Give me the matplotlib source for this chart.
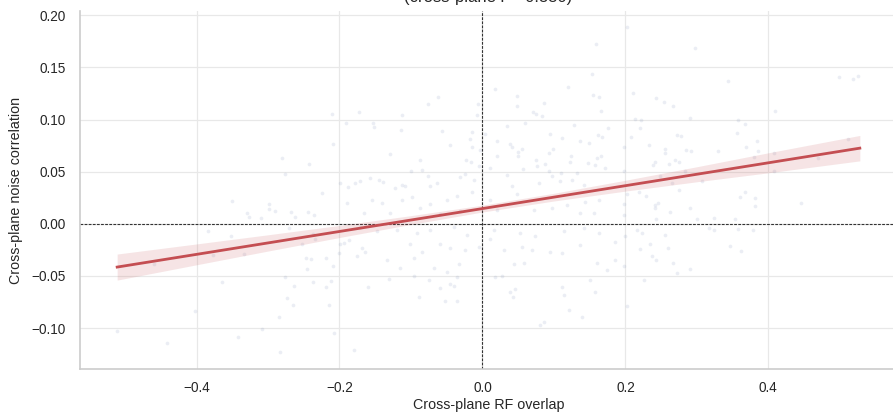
import numpy as np
import matplotlib
matplotlib.use("Agg")
import matplotlib.pyplot as plt
from matplotlib.ticker import FuncFormatter

plt.rcParams['font.family'] = ['Liberation Sans', 'DejaVu Sans']

# cell pairs: cross-plane RF overlap vs cross-plane noise correlation
rf_overlap = [
    -0.210, -0.191, -0.209, -0.280, -0.242, -0.276, -0.199, -0.188,
    0.159, 0.153, 0.018, 0.120, 0.049, -0.062, 0.155, 0.163, -0.076, -0.006,
    0.048, 0.086, -0.173, -0.113, -0.007, 0.071, 0.075, 0.084, 0.166, -0.153,
    -0.151, 0.035, 0.059, 0.128, -0.114, -0.056, -0.015, 0.004, 0.094, 0.161,
    0.176, 0.167, -0.018, 0.021, 0.039, 0.111, 0.136, 0.149, -0.046, -0.014,
    -0.004, 0.042, 0.056, 0.050, 0.099, 0.093, -0.129, 0.020, 0.050, 0.124,
    0.160, 0.166, -0.087, -0.023, -0.016, 0.075, 0.122, 0.148, -0.005, 0.011,
    0.057, 0.077, 0.087, 0.157, 0.172, -0.100, -0.085, 0.093, 0.132, -0.076,
    -0.032, -0.024, 0.035, 0.098, 0.110, -0.157, -0.145, -0.139, -0.178, -0.171,
    -0.112, -0.109, -0.073, -0.064, -0.012, 0.042, 0.079, 0.108, 0.126, 0.142,
    -0.122,
    0.202, 0.297, 0.343, 0.499, 0.518, 0.525, 0.211, 0.243, 0.254, 0.267,
    0.410, 0.214, 0.222, 0.291, 0.358, 0.221, 0.367, 0.208, 0.272, 0.278,
    0.356, 0.233, 0.384, 0.198, 0.369, 0.255, 0.285, 0.292, 0.329, 0.256,
    0.386, 0.270, 0.275, 0.241, 0.239, 0.261, 0.380, 0.408, 0.512, 0.283,
    0.248, 0.408, 0.307, 0.198, 0.265, 0.469,
    -0.350, -0.298, -0.298, -0.290, -0.330, -0.326, -0.310, -0.268, -0.262, -0.244,
    -0.236, -0.225, -0.190, -0.384, -0.352, -0.270, -0.237, -0.252, -0.234, -0.199,
    -0.377, -0.334, -0.459, -0.247, -0.240, -0.219, -0.246, -0.209, -0.201, -0.276,
    -0.364, -0.263, -0.237, -0.212, -0.219, -0.273, -0.265, -0.215, -0.402, -0.284,
    -0.511, -0.309, -0.342, -0.207, -0.441, -0.283, -0.193, -0.186,
    -0.154, -0.140, -0.112, -0.098, -0.073, -0.049, -0.035, -0.014, 0.011, 0.021,
    0.049, 0.072, 0.097, 0.118, 0.137, 0.144, 0.163, 0.156, -0.166, -0.129,
    -0.087, -0.059, -0.031, -0.171, -0.147, -0.119, -0.091, -0.073, -0.040, -0.021,
    0.011, 0.016, 0.053, 0.074, 0.114, 0.142, 0.163, 0.186, -0.168, -0.164,
    -0.101, -0.084, -0.059, -0.045, -0.024, -0.005, 0.030, 0.056, 0.070, 0.095,
    0.111, 0.137, -0.175, -0.133, -0.115, -0.096, -0.068, -0.049, -0.033, 0.044,
    0.058, 0.160, 0.174, 0.186, -0.131, -0.096, -0.075, -0.035, 0.017, 0.028,
    0.151, -0.160, -0.059, -0.046, -0.040, 0.111, 0.039, 0.046, 0.114, 0.158,
    -0.089, -0.052, -0.035, 0.043, 0.121, 0.139, 0.086, 0.081, -0.179,
    0.445, 0.198, 0.202, 0.219, 0.229, 0.242, 0.245, 0.242, 0.275, 0.291,
    0.262, 0.243, 0.198, 0.300, 0.324, 0.354, 0.361, 0.368, 0.382, 0.382,
    0.216, 0.223, 0.200, 0.256, 0.317, 0.324, 0.358, 0.379, 0.234, 0.220,
    0.260, 0.346, 0.362, 0.237, 0.243, 0.266, 0.198, 0.291, 0.272, 0.226,
    0.202,
]
noise_corr = [
    0.105, 0.097, 0.077, 0.063, 0.057, 0.048, 0.039, 0.035,
    0.173, 0.144, 0.129, 0.131, 0.123, 0.122, 0.124, 0.122, 0.115, 0.115,
    0.113, 0.116, 0.107, 0.104, 0.104, 0.107, 0.105, 0.103, 0.108, 0.097,
    0.093, 0.094, 0.097, 0.095, 0.090, 0.089, 0.088, 0.086, 0.086, 0.085,
    0.092, 0.083, 0.081, 0.079, 0.077, 0.082, 0.079, 0.078, 0.076, 0.074,
    0.071, 0.074, 0.072, 0.069, 0.072, 0.068, 0.067, 0.065, 0.065, 0.065,
    0.063, 0.065, 0.061, 0.061, 0.059, 0.061, 0.059, 0.058, 0.055, 0.054,
    0.053, 0.055, 0.057, 0.056, 0.054, 0.051, 0.052, 0.051, 0.049, 0.046,
    0.045, 0.048, 0.047, 0.046, 0.049, 0.044, 0.042, 0.040, 0.039, 0.041,
    0.037, 0.036, 0.036, 0.039, 0.042, 0.036, 0.039, 0.041, 0.042, 0.037,
    0.034,
    0.189, 0.169, 0.137, 0.141, 0.139, 0.142, 0.126, 0.121, 0.117, 0.113,
    0.108, 0.101, 0.100, 0.102, 0.100, 0.092, 0.096, 0.083, 0.085, 0.084,
    0.087, 0.076, 0.079, 0.074, 0.074, 0.072, 0.071, 0.070, 0.070, 0.068,
    0.070, 0.061, 0.059, 0.059, 0.056, 0.057, 0.064, 0.068, 0.081, 0.051,
    0.046, 0.051, 0.041, 0.051, 0.039, 0.063,
    0.022, 0.019, 0.014, 0.012, 0.010, 0.007, 0.006, 0.011, 0.007, 0.011,
    0.008, 0.030, 0.020, -0.007, -0.012, -0.004, -0.010, -0.019, -0.015, -0.019,
    -0.030, -0.029, -0.039, -0.033, -0.034, -0.033, -0.043, -0.040, -0.028, -0.051,
    -0.056, -0.060, -0.056, -0.055, -0.061, -0.071, -0.078, -0.078, -0.084, -0.089,
    -0.103, -0.101, -0.109, -0.105, -0.114, -0.123, -0.018, -0.016,
    0.023, 0.020, 0.023, 0.026, 0.019, 0.023, 0.027, 0.031, 0.023, 0.013,
    0.029, 0.013, 0.015, 0.018, 0.010, 0.021, 0.023, 0.010, 0.010, 0.010,
    0.015, 0.009, 0.012, -0.003, -0.007, -0.006, -0.009, -0.006, -0.003, -0.011,
    -0.015, -0.006, -0.009, -0.012, -0.007, -0.004, -0.009, -0.017, -0.023, -0.027,
    -0.019, -0.027, -0.019, -0.023, -0.025, -0.022, -0.025, -0.022, -0.025, -0.027,
    -0.028, -0.020, -0.031, -0.035, -0.042, -0.033, -0.042, -0.046, -0.039, -0.039,
    -0.038, -0.038, -0.044, -0.035, -0.053, -0.050, -0.054, -0.051, -0.051, -0.050,
    -0.054, -0.061, -0.062, -0.058, -0.060, -0.061, -0.065, -0.063, -0.068, -0.065,
    -0.070, -0.074, -0.074, -0.070, -0.083, -0.089, -0.094, -0.097, -0.121,
    0.020, 0.019, 0.029, 0.031, 0.027, 0.018, 0.020, 0.015, 0.032, 0.015,
    0.011, 0.005, 0.008, 0.005, 0.006, 0.005, 0.026, 0.031, 0.025, 0.017,
    -0.006, -0.009, -0.012, -0.011, -0.004, -0.006, -0.005, -0.006, -0.019, -0.024,
    -0.023, -0.021, -0.026, -0.031, -0.035, -0.038, -0.040, -0.043, -0.047, -0.054,
    -0.079,
]

# least-squares fit and its 95% band
fit_x = [-0.511, 0.528]
fit_y = [-0.0415, 0.0726]
band_x = [-0.511, -0.4, -0.3, -0.2, -0.1, 0.0, 0.1, 0.2, 0.3, 0.4, 0.528]
band_half = [0.0125, 0.0100, 0.0078, 0.0058, 0.0042, 0.0033, 0.0037, 0.0052, 0.0072, 0.0096, 0.0122]
r_value = 0.380


def fmt(decimals):
    return FuncFormatter(lambda v, _: f'{v:.{decimals}f}'.replace('-', '\u2212'))


fig = plt.figure(figsize=(8.93, 4.13), dpi=100)
ax = fig.add_axes([80 / 893, 44 / 413, 817 / 893, 358 / 413])

ax.scatter(rf_overlap, noise_corr, s=7, color='#7b8bb8', alpha=0.15, linewidths=0, zorder=2)

bx = np.array(band_x)
by = np.interp(bx, fit_x, fit_y)
half = np.array(band_half)
ax.fill_between(bx, by - half, by + half, color='#c44e52', alpha=0.15, linewidth=0, zorder=3)
ax.plot(fit_x, fit_y, color='#c44e52', lw=2, zorder=4)

ax.axhline(0, color='#333333', lw=0.8, ls=(0, (2.5, 1.2)), zorder=1)
ax.axvline(0, color='#333333', lw=0.8, ls=(0, (2.5, 1.2)), zorder=1)

ax.set_xlim(-0.563, 0.580)
ax.set_ylim(-0.1393, 0.2042)
ax.set_xticks([-0.4, -0.2, 0.0, 0.2, 0.4])
ax.set_yticks([-0.10, -0.05, 0.00, 0.05, 0.10, 0.15, 0.20])
ax.xaxis.set_major_formatter(fmt(1))
ax.yaxis.set_major_formatter(fmt(2))
ax.tick_params(axis='x', length=0, pad=9, labelsize=9.8, colors='#262626')
ax.tick_params(axis='y', length=0, pad=10, labelsize=9.8, colors='#262626')

ax.grid(True, color='#e8e8e8', lw=0.9, zorder=0)
ax.set_axisbelow(True)
for side in ['top', 'right']:
    ax.spines[side].set_visible(False)
for side in ['left', 'bottom']:
    ax.spines[side].set_color('#cccccc')
    ax.spines[side].set_linewidth(1.2)

ax.set_xlabel('Cross-plane RF overlap', fontsize=10.3, color='#262626', labelpad=2)
ax.set_ylabel('Cross-plane noise correlation', fontsize=10.3, color='#262626', labelpad=6)

fig.text(488.5 / 893, 1 - 5 / 413, f'(cross-plane r = {r_value:.3f})', ha='center', va='bottom',
         fontsize=12, color='#262626')

fig.savefig('out.png', dpi=100)
